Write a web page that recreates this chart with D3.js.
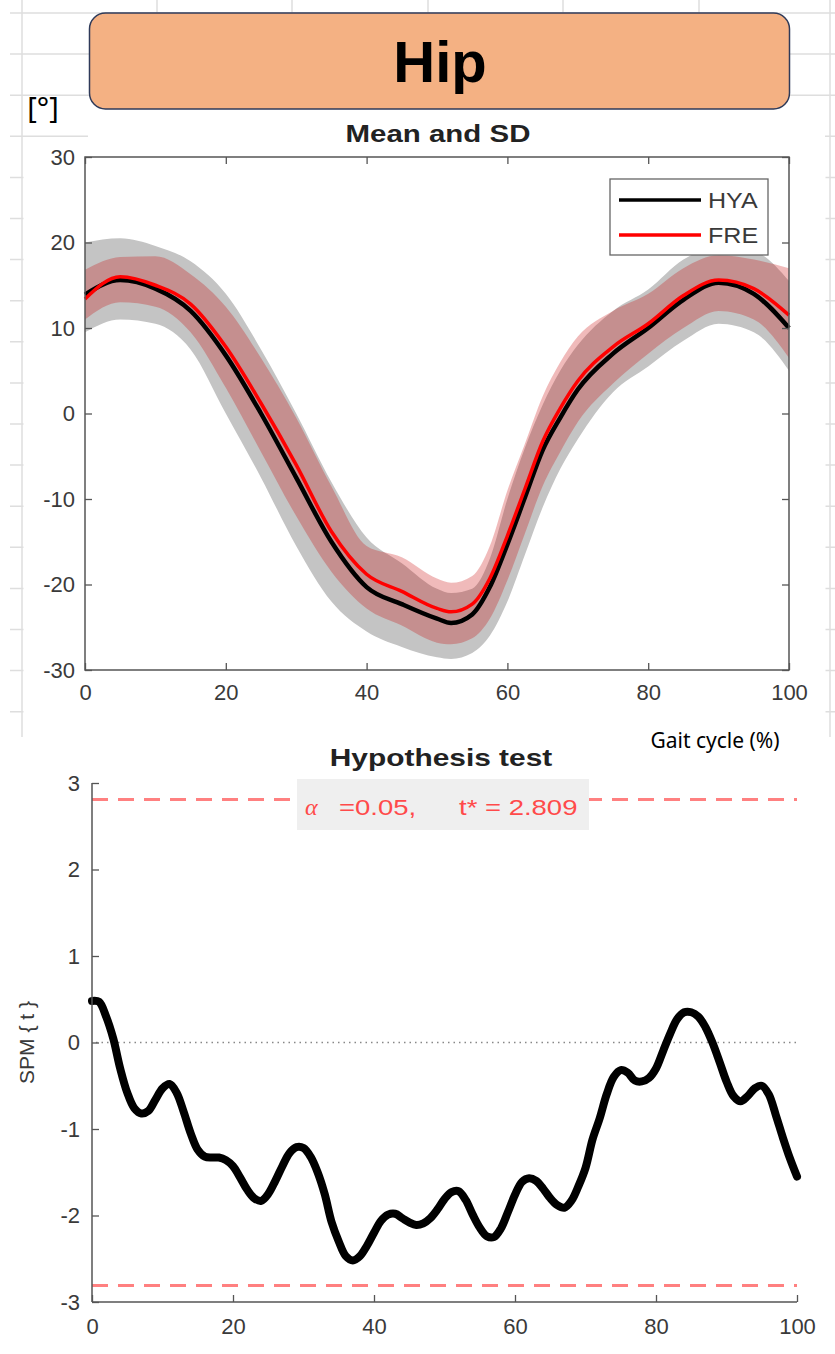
<!DOCTYPE html>
<html>
<head>
<meta charset="utf-8">
<script src="https://cdn.jsdelivr.net/npm/d3@7"></script>
<style>
  html, body { margin: 0; padding: 0; background: #fff; }
  svg { display: block; }
</style>
</head>
<body>
<svg id="fig" width="835" height="1354"></svg>
<script>
// ---- Hip kinematics: mean ± SD for two groups (% gait cycle) ----
const gaitPct = [0, 5, 10, 15, 20, 25, 30, 35, 40, 45, 50, 52, 55, 57.5, 60, 62.5, 65, 67.5, 70, 75, 80, 85, 90, 95, 100];
const hyaMean = [13.9, 15.6, 14.6, 12.0, 6.8, 0.0, -7.5, -15.0, -20.3, -22.3, -24.0, -24.5, -23.5, -20.3, -15.3, -9.8, -4.3, -0.5, 2.8, 7.0, 10.0, 13.3, 15.3, 14.0, 10.0];
const hyaUpper = [20.0, 20.5, 19.6, 17.8, 14.0, 7.5, 0.0, -8.0, -14.5, -17.5, -20.5, -21.0, -20.5, -17.0, -10.0, -4.0, 1.0, 5.0, 8.0, 12.0, 14.5, 18.0, 19.5, 19.0, 15.5];
const hyaLower = [9.5, 11.0, 10.5, 7.5, 0.0, -7.5, -15.5, -22.0, -25.5, -27.3, -28.5, -28.7, -28.0, -26.0, -22.0, -16.5, -11.0, -6.5, -3.0, 2.5, 5.5, 8.5, 10.5, 9.5, 5.0];
const freMean = [13.4, 16.0, 15.0, 12.8, 7.8, 1.2, -6.0, -13.8, -18.8, -20.8, -22.8, -23.2, -22.3, -19.3, -14.3, -8.8, -3.3, 0.6, 3.8, 7.8, 10.5, 13.8, 15.6, 14.6, 11.5];
const freUpper = [16.8, 18.3, 18.4, 16.3, 12.5, 6.5, -0.5, -8.5, -15.5, -16.8, -19.3, -19.8, -19.0, -15.5, -9.0, -3.5, 2.0, 6.0, 9.0, 12.0, 14.0, 17.0, 18.5, 18.0, 17.0];
const freLower = [11.0, 13.0, 12.5, 9.5, 3.0, -4.5, -12.0, -18.5, -22.8, -24.8, -26.8, -27.0, -26.3, -24.0, -19.5, -14.0, -8.5, -4.5, -1.0, 3.5, 7.0, 10.0, 12.0, 11.0, 6.5];
const groupNames = ["HYA", "FRE"];

// ---- SPM{t} trajectory, one value per % of gait cycle ----
const spmT = [
  0.48, 0.47, 0.30, 0.05, -0.30, -0.58, -0.76, -0.82, -0.79, -0.66,
  -0.53, -0.48, -0.58, -0.80, -1.05, -1.24, -1.32, -1.33, -1.33, -1.36,
  -1.43, -1.56, -1.70, -1.80, -1.83, -1.75, -1.60, -1.43, -1.28, -1.21,
  -1.22, -1.32, -1.50, -1.75, -2.08, -2.30, -2.47, -2.52, -2.47, -2.35,
  -2.20, -2.06, -1.99, -1.98, -2.03, -2.08, -2.11, -2.09, -2.03, -1.93,
  -1.81, -1.73, -1.72, -1.82, -1.99, -2.14, -2.24, -2.25, -2.15, -1.96,
  -1.76, -1.61, -1.57, -1.60, -1.69, -1.80, -1.88, -1.91, -1.83, -1.66,
  -1.45, -1.12, -0.88, -0.60, -0.40, -0.32, -0.35, -0.44, -0.45, -0.41,
  -0.30, -0.10, 0.10, 0.27, 0.35, 0.35, 0.30, 0.18, 0.00, -0.22,
  -0.45, -0.62, -0.68, -0.62, -0.53, -0.50, -0.60, -0.84, -1.10, -1.34, -1.55
];
const tCritical = 2.809;
const alphaLevel = "0.05";

// ---- tick values ----
const xTicks = [0, 20, 40, 60, 80, 100];
const yTicksAngle = [-30, -20, -10, 0, 10, 20, 30];
const yTicksSpm = [-3, -2, -1, 0, 1, 2, 3];

const svg = d3.select("#fig");
const SANS = "'Liberation Sans', Arial, Helvetica, sans-serif";
const UI = "'Noto Sans', 'Open Sans', sans-serif";
const AX = "#555";
const LBL = "#3a3a3a";
const plainNum = d => String(d);   // hyphen-minus, no decimals

// text with optional horizontal stretch
function label(g, x, y, s, o = {}) {
  const sx = o.sx || 1;
  return g.append("text")
    .attr("transform", `translate(${x},${y}) scale(${sx},1)`)
    .attr("text-anchor", o.anchor || "middle")
    .attr("font-family", o.family || SANS)
    .attr("font-size", o.size || 22)
    .attr("font-weight", o.weight || "normal")
    .attr("font-style", o.style || "normal")
    .attr("fill", o.fill || LBL)
    .text(s);
}

// ---- spreadsheet backdrop ----
const sheet = svg.append("g");
const rowYs = d3.range(18).map(k => 13 + k * 41.1);
const colXs = [22, 157, 292, 428, 563, 699, 830];
sheet.selectAll("line.r").data(rowYs).join("line")
  .attr("x1", 10).attr("x2", 835).attr("y1", d => d).attr("y2", d => d)
  .attr("stroke", "#dedede").attr("stroke-width", 1.5);
sheet.selectAll("line.c").data(colXs).join("line")
  .attr("x1", d => d).attr("x2", d => d).attr("y1", 0).attr("y2", 737)
  .attr("stroke", "#dedede").attr("stroke-width", 1.5);
// white canvas of the figure panels
sheet.append("rect").attr("x", 23.5).attr("y", 140).attr("width", 802).attr("height", 600).attr("fill", "#fff");
sheet.append("rect").attr("x", 88).attr("y", 105).attr("width", 737).attr("height", 40).attr("fill", "#fff");
svg.append("rect").attr("x", 0).attr("y", 737).attr("width", 835).attr("height", 617).attr("fill", "#fff");

// ---- header box ----
svg.append("rect").attr("x", 89.5).attr("y", 13).attr("width", 700).attr("height", 96).attr("rx", 16)
  .attr("fill", "#f4b183").attr("stroke", "#2e3a59").attr("stroke-width", 1.5);
label(svg, 440, 82, "Hip", { size: 58, weight: "bold", fill: "#000" });
label(svg, 43, 118, "[°]", { size: 29, family: UI, fill: "#000" });

// ================= Mean and SD panel =================
const x1 = d3.scaleLinear().domain([0, 100]).range([85, 789]);
const y1 = d3.scaleLinear().domain([-30, 30]).range([670, 157]);
const meanPanel = svg.append("g");

label(meanPanel, 438, 142, "Mean and SD", { size: 23, weight: "bold", fill: "#222", sx: 1.28 });

const idx = d3.range(gaitPct.length);
const band = (lo, hi) => d3.area().curve(d3.curveMonotoneX)
  .x(i => x1(gaitPct[i])).y0(i => y1(lo[i])).y1(i => y1(hi[i]));
const meanLine = m => d3.line().curve(d3.curveMonotoneX)
  .x(i => x1(gaitPct[i])).y(i => y1(m[i]));

meanPanel.append("path").attr("d", band(hyaLower, hyaUpper)(idx)).attr("fill", "#c4c4c4");
meanPanel.append("path").attr("d", band(freLower, freUpper)(idx)).attr("fill", "#c80000").attr("fill-opacity", 0.27);
meanPanel.append("path").attr("d", meanLine(hyaMean)(idx)).attr("fill", "none").attr("stroke", "#000").attr("stroke-width", 4.5);
meanPanel.append("path").attr("d", meanLine(freMean)(idx)).attr("fill", "none").attr("stroke", "#ff0000").attr("stroke-width", 3.5);

// box + inward ticks
meanPanel.append("rect").attr("x", x1(0)).attr("y", y1(30)).attr("width", x1(100) - x1(0)).attr("height", y1(-30) - y1(30))
  .attr("fill", "none").attr("stroke", AX).attr("stroke-width", 1.5);
const axStyle = g => {
  g.select(".domain").remove();
  g.selectAll(".tick line").attr("stroke", AX).attr("stroke-width", 1.3);
  g.selectAll(".tick text").attr("font-family", SANS).attr("font-size", 22).attr("fill", LBL);
};
meanPanel.append("g").attr("transform", `translate(0,${y1(-30)})`)
  .call(d3.axisBottom(x1).tickValues(xTicks).tickFormat(plainNum).tickSizeInner(-7).tickSizeOuter(0).tickPadding(14))
  .call(axStyle);
meanPanel.append("g").attr("transform", `translate(0,${y1(30)})`)
  .call(d3.axisTop(x1).tickValues(xTicks).tickSizeInner(-7).tickSizeOuter(0).tickFormat(""))
  .call(axStyle);
meanPanel.append("g").attr("transform", `translate(${x1(0)},0)`)
  .call(d3.axisLeft(y1).tickValues(yTicksAngle).tickFormat(plainNum).tickSizeInner(-7).tickSizeOuter(0).tickPadding(10))
  .call(axStyle);
meanPanel.append("g").attr("transform", `translate(${x1(100)},0)`)
  .call(d3.axisRight(y1).tickValues(yTicksAngle).tickSizeInner(-7).tickSizeOuter(0).tickFormat(""))
  .call(axStyle);

// legend
const lg = meanPanel.append("g");
lg.append("rect").attr("x", 610).attr("y", 179).attr("width", 158).attr("height", 76)
  .attr("fill", "#fff").attr("stroke", "#666").attr("stroke-width", 1.3);
const legendColors = ["#000", "#ff0000"];
groupNames.forEach((nm, k) => {
  const yy = 200 + k * 35;
  lg.append("line").attr("x1", 619).attr("x2", 701).attr("y1", yy).attr("y2", yy)
    .attr("stroke", legendColors[k]).attr("stroke-width", 3.5);
  label(lg, 708, yy + 8, nm, { anchor: "start", size: 22, sx: 1.14 });
});

label(svg, 715, 748, "Gait cycle (%)", { size: 21, family: UI, fill: "#000" });

// ================= Hypothesis test panel =================
const x2 = d3.scaleLinear().domain([0, 100]).range([92, 797]);
const y2 = d3.scaleLinear().domain([-3, 3]).range([1302, 783]);
const testPanel = svg.append("g");

label(testPanel, 441, 766, "Hypothesis test", { size: 23, weight: "bold", fill: "#222", sx: 1.3 });

// threshold lines
[tCritical, -tCritical].forEach(v => {
  testPanel.append("line").attr("x1", x2(0)).attr("x2", x2(100)).attr("y1", y2(v)).attr("y2", y2(v))
    .attr("stroke", "#ff8080").attr("stroke-width", 3).attr("stroke-dasharray", "16 10");
});
// zero reference
testPanel.append("line").attr("x1", x2(0) + 4).attr("x2", x2(100)).attr("y1", y2(0)).attr("y2", y2(0))
  .attr("stroke", "#888").attr("stroke-width", 1.5).attr("stroke-dasharray", "1.5 4");

// annotation box
testPanel.append("rect").attr("x", 297).attr("y", 779).attr("width", 292).attr("height", 51).attr("fill", "#efefef");
label(testPanel, 305, 815, "α", { anchor: "start", size: 24, style: "italic", family: "'Liberation Serif', 'DejaVu Serif', serif", fill: "#ff4a4a" });
label(testPanel, 339, 815, "=" + alphaLevel + ",", { anchor: "start", size: 22, fill: "#ff4a4a", sx: 1.25 });
label(testPanel, 459, 815, "t* = " + tCritical, { anchor: "start", size: 22, fill: "#ff4a4a", sx: 1.25 });

// SPM{t} curve
const spmLine = d3.line().curve(d3.curveCatmullRom).x((d, i) => x2(i)).y(d => y2(d));
testPanel.append("path").attr("d", spmLine(spmT)).attr("fill", "none").attr("stroke", "#000")
  .attr("stroke-width", 8).attr("stroke-linejoin", "round").attr("stroke-linecap", "round");

// axes
testPanel.append("line").attr("x1", x2(0)).attr("x2", x2(0)).attr("y1", y2(3)).attr("y2", y2(-3)).attr("stroke", AX).attr("stroke-width", 1.5);
testPanel.append("line").attr("x1", x2(0)).attr("x2", x2(100)).attr("y1", y2(-3)).attr("y2", y2(-3)).attr("stroke", AX).attr("stroke-width", 1.5);
testPanel.append("g").attr("transform", `translate(0,${y2(-3)})`)
  .call(d3.axisBottom(x2).tickValues(xTicks).tickFormat(plainNum).tickSizeInner(-7).tickSizeOuter(0).tickPadding(16))
  .call(axStyle);
testPanel.append("g").attr("transform", `translate(${x2(0)},0)`)
  .call(d3.axisLeft(y2).tickValues(yTicksSpm).tickFormat(plainNum).tickSizeInner(-7).tickSizeOuter(0).tickPadding(12))
  .call(axStyle);

label(testPanel, 0, 0, "SPM { t }", { size: 21, fill: LBL })
  .attr("transform", `translate(34,${y2(0)}) rotate(-90)`);
</script>
</body>
</html>
